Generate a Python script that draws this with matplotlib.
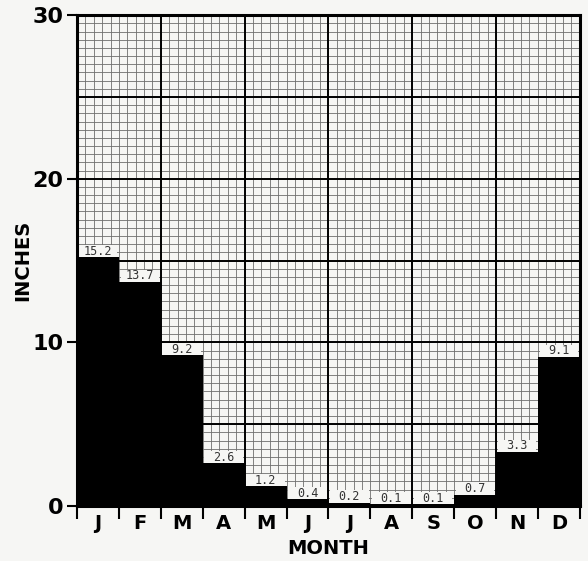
import numpy as np
import matplotlib.pyplot as plt

# monthly precipitation (inches)
months = ['J', 'F', 'M', 'A', 'M', 'J', 'J', 'A', 'S', 'O', 'N', 'D']
inches = [15.2, 13.7, 9.2, 2.6, 1.2, 0.4, 0.2, 0.1, 0.1, 0.7, 3.3, 9.1]
y_ticks = [0, 10, 20, 30]

bg = '#f6f6f4'
fig = plt.figure(figsize=(5.88, 5.61), dpi=100, facecolor=bg)
ax = fig.add_axes([0.131, 0.098, 0.855, 0.875])
ax.set_facecolor(bg)

x = np.arange(len(months))

# graph paper grid
for gx in np.arange(0, 12.01, 0.2):
    ax.axvline(gx, color='#6e6e6e', lw=0.6, zorder=1)
for gy in np.arange(0, 30.01, 0.5):
    ax.axhline(gy, color='#6e6e6e', lw=0.6, zorder=1)
for gx in range(2, 12, 2):
    ax.axvline(gx, color='black', lw=1.4, zorder=2)
for gy in range(5, 30, 5):
    ax.axhline(gy, color='black', lw=1.4, zorder=2)

ax.bar(x, inches, width=1.0, align='edge', color='black', zorder=3)

# white boxes with values on top of each bar
ax.bar(x + 0.04, 0.75, bottom=inches, width=0.92, align='edge', color=bg, zorder=4)
for xi, v in zip(x, inches):
    ax.text(xi + 0.5, v + 0.38, f'{v:.1f}', ha='center', va='center',
            family='DejaVu Sans Mono', fontsize=8.5, color='#333333', zorder=5)

ax.set_xlim(0, 12)
ax.set_ylim(0, 30)
ax.set_xticks(range(13))
ax.set_xticklabels([])
ax.set_xticks(x + 0.5, minor=True)
ax.set_xticklabels(months, minor=True, fontsize=14, fontweight='heavy')
ax.tick_params(axis='x', which='major', direction='out', length=9, width=1.5)
ax.tick_params(axis='x', which='minor', length=0, pad=6)
ax.set_yticks(y_ticks)
ax.set_yticklabels([str(t) for t in y_ticks], fontsize=16, fontweight='heavy')
ax.tick_params(axis='y', direction='out', length=7, width=1.5, pad=3)

for s in ax.spines.values():
    s.set_linewidth(2.2)
    s.set_zorder(6)

ax.set_xlabel('MONTH', fontsize=14, fontweight='heavy', labelpad=4)
ax.set_ylabel('INCHES', fontsize=14, fontweight='heavy', labelpad=0)

fig.savefig('out.png', dpi=100, facecolor=bg)
